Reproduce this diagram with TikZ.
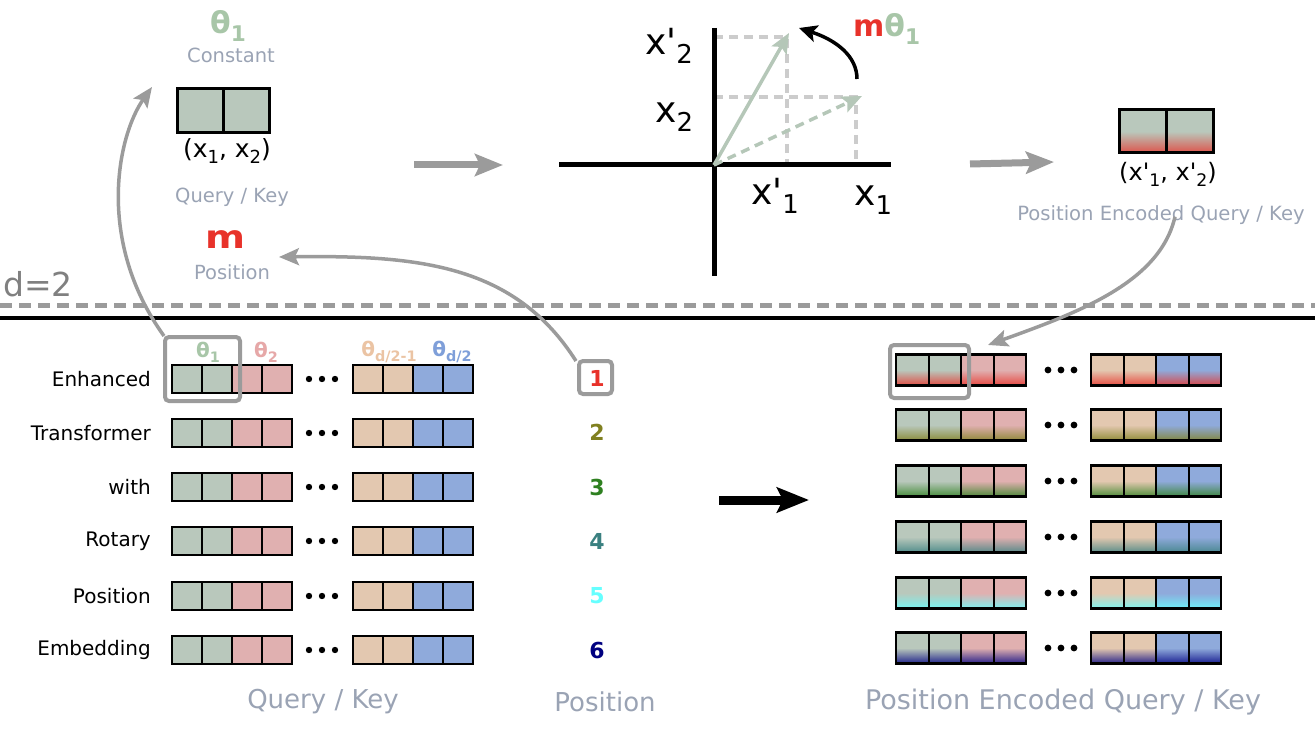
\documentclass[tikz,border=0pt]{standalone}
\usepackage{fontspec}
\setmainfont{DejaVu Sans}[Ligatures=TeXOff]
\usetikzlibrary{arrows.meta}
\definecolor{sage}{HTML}{B9C8BC}
\definecolor{pinkc}{HTML}{E0B0B0}
\definecolor{peach}{HTML}{E3C8B0}
\definecolor{bluec}{HTML}{8FAADB}
\definecolor{thgreen}{HTML}{A8C6A8}
\definecolor{thpink}{HTML}{E6A8A8}
\definecolor{thpeach}{HTML}{EBC4A4}
\definecolor{thblue}{HTML}{7F9FD9}
\definecolor{labgray}{HTML}{9AA3B4}
\definecolor{arrgray}{HTML}{9B9B9B}
\definecolor{pred}{HTML}{E8322A}
\definecolor{ptwo}{HTML}{808020}
\definecolor{pthree}{HTML}{2E8020}
\definecolor{pfour}{HTML}{3A8080}
\definecolor{pfive}{HTML}{66FFFF}
\definecolor{psix}{HTML}{000080}
\definecolor{dashgray}{HTML}{CCCCCC}
\definecolor{vecgreen}{HTML}{B5C7B8}
\newcommand\sbx[1]{\raisebox{-0.25em}{\scalebox{0.72}{#1}}}
\newcommand\fs[1]{\fontsize{#1}{#1}\selectfont}
\begin{document}
\begin{tikzpicture}[x=1pt,y=-1pt,
  rowlab/.style={font=\fs{20}, anchor=east, inner sep=0pt},
  glab/.style={text=labgray, inner sep=0pt},
  cellbox/.style={draw=black, line width=2pt},
  grpbox/.style={draw=black, line width=2.6pt},
  hlbox/.style={draw=arrgray, line width=4pt, rounded corners=4pt, inner sep=0pt},
  garrow/.style={draw=arrgray, line width=3.5pt, -{Stealth[length=20pt,width=17pt,inset=4pt]}},
  bigarrow/.style={line width=7pt, -{Stealth[length=28pt,width=22pt,inset=5pt]}},
  posnum/.style={font=\fs{22}\bfseries, inner sep=0pt},
  thlab/.style={font=\fs{20}\bfseries, inner sep=0pt},
  axlab/.style={font=\fs{36}, inner sep=0pt, anchor=base west}
]
\useasboundingbox (0,0) rectangle (1315,730);

% ---------- separator lines ----------
\draw[arrgray, line width=5pt, dash pattern=on 12pt off 7pt] (0,305) -- (1315,305);
\draw[black, line width=4.5pt] (0,318) -- (1315,318);
\node[text=gray, font=\fs{33}, anchor=west, inner sep=0pt] (dlab) at (3,284) {d=2};

% ---------- bottom-left query/key vectors ----------
\foreach \y/\lab [count=\i] in {379/Enhanced, 433/Transformer, 487/with, 541/Rotary, 596/Position, 650/Embedding} {
  \node[rowlab] (lab\i) at (151,\y) {\lab};
  \foreach \x/\c in {172/sage,202/sage,232/pinkc,262/pinkc,353/peach,383/peach,413/bluec,443/bluec}
    \draw[cellbox, fill=\c] (\x,\y-14) rectangle ++(30,28);
  \draw[grpbox] (172,\y-14) rectangle (292,\y+14);
  \draw[grpbox] (353,\y-14) rectangle (473,\y+14);
  \foreach \d in {309,322,335} \fill (\d,\y) circle[radius=3.2];
}
\node[thlab, text=thgreen] (t1) at (208,352) {θ\sbx{1}};
\node[thlab, text=thpink] (t2) at (266,352) {θ\sbx{2}};
\node[thlab, text=thpeach] (t3) at (389,352) {θ\sbx{d/2-1}};
\node[thlab, text=thblue] (t4) at (452,352) {θ\sbx{d/2}};
\node[hlbox, minimum width=75pt, minimum height=64pt] (hl1) at (202.5,369) {};

% ---------- positions ----------
\foreach \y/\n/\c in {378/1/pred, 432/2/ptwo, 487/3/pthree, 541/4/pfour, 596/5/pfive, 650/6/psix}
  \node[posnum, text=\c] (p\n) at (597,\y) {\n};
\node[hlbox, minimum width=33pt, minimum height=33pt] (pbox) at (595.5,377.5) {};

% ---------- big black arrow ----------
\coordinate (ba1) at (719,500);
\coordinate (ba2) at (809,500);
\draw[line width=9pt, -{Stealth[length=32pt,width=25pt,inset=6pt]}] (ba1) -- (ba2);

% ---------- bottom-right encoded vectors ----------
\foreach \y/\rc in {370/pred, 425/ptwo, 481/pthree, 537/pfour, 593/pfive, 648/psix} {
  \foreach \x/\c in {896/sage,928.5/sage,961/pinkc,993.5/pinkc,1091/peach,1123.5/peach,1156/bluec,1188.5/bluec}
    \draw[cellbox, top color=\c, bottom color=\rc!82!\c, middle color=\c] (\x,\y-15.5) rectangle ++(32.5,31);
  \draw[grpbox] (896,\y-15.5) rectangle (1026,\y+15.5);
  \draw[grpbox] (1091,\y-15.5) rectangle (1221,\y+15.5);
  \foreach \d in {1048,1061,1074} \fill (\d,\y) circle[radius=3.4];
}
\node[hlbox, minimum width=79pt, minimum height=53pt] (hl2) at (929.5,371.5) {};

% ---------- bottom labels ----------
\node[glab, font=\fs{26}] (bq) at (323,702) {Query / Key};
\node[glab, font=\fs{26}] (bp) at (605,702) {Position};
\node[glab, font=\fs{27}] (be) at (1063,702) {Position Encoded Query / Key};

% ---------- top-left ----------
\node[font=\fs{30}\bfseries, text=thgreen, inner sep=0pt] (th) at (228,26) {θ\sbx{1}};
\node[glab, font=\fs{19.5}] (const) at (231,55) {Constant};
\draw[line width=3pt, fill=sage] (177,89) rectangle (223,133);
\draw[line width=3pt, fill=sage] (223,89) rectangle (269,133);
\node[font=\fs{25}, inner sep=0pt] (xx) at (227,151) {(x\sbx{1}, x\sbx{2})};
\node[glab, font=\fs{19.5}] (qk) at (232,197) {Query / Key};
\node[font=\fs{32}\bfseries, text=pred, inner sep=0pt] (mm) at (226,240) {\scalebox{1.2}[1]{m}};
\node[glab, font=\fs{19.5}] (plab) at (232,272) {Position};

% ---------- rotation diagram ----------
\coordinate (o) at (714,165);
\draw[dashgray, line width=3.5pt, dash pattern=on 9pt off 6pt] (714,37) -- (787,37) -- (787,165);
\draw[dashgray, line width=3.5pt, dash pattern=on 9pt off 6pt] (714,97) -- (856,97) -- (856,165);
\draw[line width=5pt] (559,165) -- (891,165);
\draw[line width=5pt] (714,28) -- (714,276);
\coordinate (vnew) at (789,33);
\coordinate (vold) at (862,96);
\draw[vecgreen, line width=3.5pt, -{Stealth[length=20pt,width=17pt,inset=4pt]}] (o) -- (vnew);
\draw[vecgreen, line width=3.5pt, dash pattern=on 9pt off 6pt, -{Stealth[length=20pt,width=17pt,inset=4pt]}] (o) -- (vold);
\node[axlab] (lx2p) at (645,55) {x'\sbx{2}};
\node[axlab] (lx2) at (655,123) {x\sbx{2}};
\node[axlab] (lx1p) at (751,205) {x'\sbx{1}};
\node[axlab] (lx1) at (854,206) {x\sbx{1}};
\coordinate (ca1) at (857,79);
\coordinate (ca2) at (799,28);
\draw[line width=3.5pt, -{Stealth[length=18pt,width=17pt,inset=4pt]}] (ca1) .. controls (857,56) and (836,40) .. (ca2);
\node[font=\fs{30}\bfseries, inner sep=0pt, anchor=base west] (mth) at (853,37) {\textcolor{pred}{m}\textcolor{thgreen}{θ\sbx{1}}};

% ---------- straight gray arrows ----------
\coordinate (g1a) at (414,165);
\coordinate (g1b) at (503,165);
\draw[arrgray, bigarrow] (g1a) -- (g1b);
\coordinate (g2a) at (970,164);
\coordinate (g2b) at (1054,162);
\draw[arrgray, bigarrow] (g2a) -- (g2b);

% ---------- top-right ----------
\draw[line width=3pt, top color=sage, bottom color=pred!78!sage, middle color=sage] (1119,110) rectangle (1166,153);
\draw[line width=3pt, top color=sage, bottom color=pred!78!sage, middle color=sage] (1166,110) rectangle (1213,153);
\node[font=\fs{24}, inner sep=0pt] (xxp) at (1168,174) {(x'\sbx{1}, x'\sbx{2})};
\node[glab, font=\fs{19.6}] (pe) at (1161,215) {Position Encoded Query / Key};

% ---------- curved connectors ----------
\coordinate (tipA) at (152,87);
\coordinate (tipB) at (279,257);
\coordinate (tipC) at (988,345);
\draw[garrow] ([xshift=1pt,yshift=-1pt]hl1.north west) .. controls (95,240) and (118,135) .. (tipA);
\draw[garrow] ([xshift=-1pt,yshift=-2pt]pbox.north west) .. controls (515,265) and (420,255) .. (tipB);
\draw[garrow] ([xshift=14pt,yshift=8pt]pe.south) .. controls (1160,282) and (1080,312) .. (tipC);
\end{tikzpicture}
\end{document}
